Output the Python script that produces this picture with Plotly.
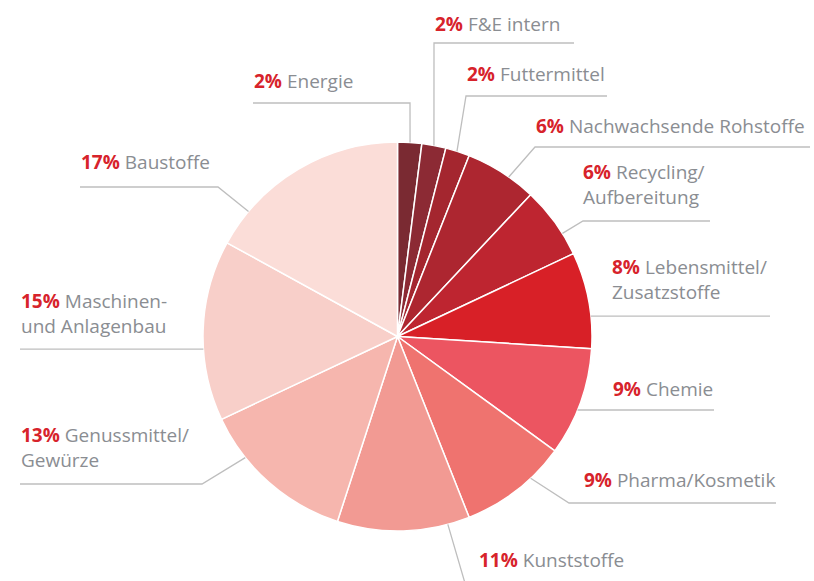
import math
import plotly.graph_objects as go

# ---- data ----
categories = ["Energie", "F&E intern", "Futtermittel", "Nachwachsende Rohstoffe",
              "Recycling/<br>Aufbereitung", "Lebensmittel/<br>Zusatzstoffe", "Chemie",
              "Pharma/Kosmetik", "Kunststoffe", "Genussmittel/<br>Gewürze",
              "Maschinen-<br>und Anlagenbau", "Baustoffe"]
shares = [2, 2, 2, 6, 6, 8, 9, 9, 11, 13, 15, 17]
colors = ["#7A2A32", "#8C2A34", "#A4262F", "#AD2630", "#BE2530", "#D82027",
          "#EC5561", "#EF736F", "#F29A93", "#F6B6AE", "#F8CFC9", "#FBDDD8"]

# ---- layout (pixels) ----
W, H = 814, 581
CX, CY, R = 397.5, 336.5, 194.5
# per label: edge angle (deg, clockwise from top), elbow (x, y), line end x, text anchor x, text center y, xanchor
label_layout = [
    (3.7,   (410, 103), 253, 253, 81, "left"),
    (10.8,  (434, 43),  574, 434, 24, "left"),
    (17.8,  (466, 96),  607, 466, 74, "left"),
    (34.9,  (535, 147), 810, 535, 126, "left"),
    (58.0,  (583, 221), 710, 582, 185, "left"),
    (84.0,  None,       770, 611, 279, "left"),
    (112.2, None,       714, 714, 389, "right"),
    (136.8, (569, 503), 776, 776, 480, "right"),
    (165.0, (467, 590), 700, 478, 560, "left"),
    (231.5, (202, 484), 20, 20, 447, "left"),
    (266.3, None,       20, 20, 313, "left"),
    (310.0, (218, 187), 80, 80, 162, "left"),
]

def px(x):
    return x / W

def py(y):
    return 1 - y / H

fig = go.Figure(go.Pie(
    labels=[c.replace("<br>", " ") for c in categories],
    values=shares,
    sort=False,
    direction="clockwise",
    rotation=0,
    marker=dict(colors=colors, line=dict(color="white", width=1.5)),
    textinfo="none",
    hoverinfo="label+percent",
    showlegend=False,
    domain=dict(x=[px(CX - R), px(CX + R)], y=[py(CY + R), py(CY - R)]),
))

LINE = "#BEBEBE"
shapes = []
annotations = []
for cat, val, (ang, elbow, endx, tx, ty, xa) in zip(categories, shares, label_layout):
    a = math.radians(ang)
    ex, ey = CX + R * math.sin(a), CY - R * math.cos(a)
    if elbow is None:
        pts = [(ex, ey), (endx, ey)]
    else:
        pts = [(ex, ey), elbow, (endx, elbow[1])]
    path = "M " + " L ".join(f"{px(x):.5f},{py(y):.5f}" for x, y in pts)
    shapes.append(dict(type="path", path=path, xref="paper", yref="paper",
                       line=dict(color=LINE, width=1.3)))
    text = f"<b><span style='color:#D7232B'>{val}%</span></b> {cat}"
    annotations.append(dict(
        x=px(tx), y=py(ty), xref="paper", yref="paper",
        xanchor=xa, yanchor="middle", align=xa,
        text=text, showarrow=False,
        font=dict(family="Open Sans", size=19, color="#8A8D92"),
        borderpad=0,
    ))

fig.update_layout(
    width=W, height=H,
    margin=dict(l=0, r=0, t=0, b=0),
    paper_bgcolor="white", plot_bgcolor="white",
    shapes=shapes, annotations=annotations,
)

fig.write_html("out.html", config={"displayModeBar": False},
               post_script="document.body.style.margin='0px';document.body.style.overflow='hidden';")
